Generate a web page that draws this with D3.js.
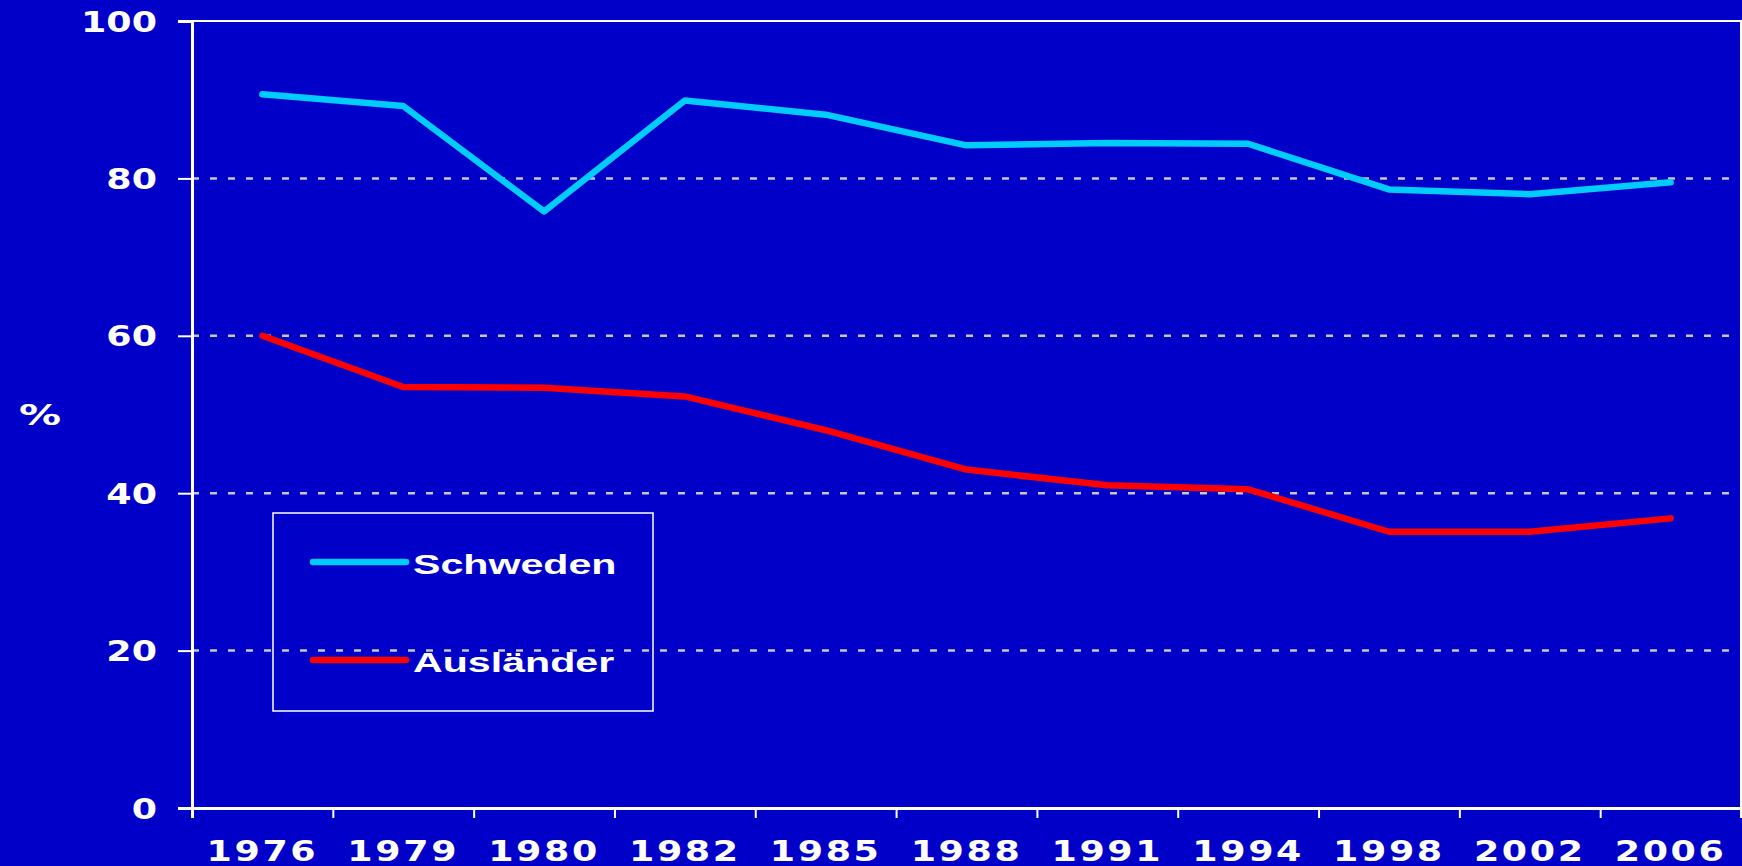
<!DOCTYPE html>
<html>
<head>
<meta charset="utf-8">
<script src="https://cdn.jsdelivr.net/npm/d3@7"></script>
<style>
  html, body { margin: 0; padding: 0; background: #0000c8; }
  svg { display: block; }
</style>
</head>
<body>
<script>
// data
const years = ["1976", "1979", "1980", "1982", "1985", "1988", "1991", "1994", "1998", "2002", "2006"];
const schweden = [90.7, 89.2, 75.8, 89.9, 88.1, 84.2, 84.5, 84.4, 78.6, 78.0, 79.5];
const auslaender = [60.0, 53.5, 53.4, 52.3, 48.0, 43.0, 41.0, 40.5, 35.1, 35.1, 36.8];
const yTicks = [0, 20, 40, 60, 80, 100];
const seriesNames = ["Schweden", "Ausländer"];
const seriesColors = ["#00ccff", "#ff0000"];

const W = 1742, H = 866;
const margin = {top: 21, right: 1, bottom: 58, left: 192};
const w = W - margin.left - margin.right;
const h = H - margin.top - margin.bottom;

const svg = d3.select("body").append("svg")
  .attr("width", W)
  .attr("height", H);

svg.append("rect").attr("width", W).attr("height", H).attr("fill", "#0000c8");

const g = svg.append("g").attr("transform", `translate(${margin.left},${margin.top})`);

const x = d3.scaleBand().domain(years).range([0, w]);
const xEdges = d3.scaleLinear().domain([0, years.length]).range([0, w]);
const y = d3.scaleLinear().domain([0, 100]).range([h, 0]);

// dashed grid
g.append("g")
  .selectAll("line")
  .data(yTicks.filter(d => d > 0 && d < 100))
  .enter()
  .append("line")
  .attr("x1", 0).attr("x2", w)
  .attr("y1", d => y(d)).attr("y2", d => y(d))
  .attr("stroke", "#c8c8c8")
  .attr("stroke-width", 2.5)
  .attr("stroke-dasharray", "7,11");

// frame top + right
g.append("path")
  .attr("d", `M0,${y(100)}H${w}V${h}`)
  .attr("fill", "none")
  .attr("stroke", "#ffffff")
  .attr("stroke-width", 2);

const textScale = 1.3;

// y axis
const yAxis = g.append("g")
  .call(d3.axisLeft(y).tickValues(yTicks).tickSize(14).tickPadding(0));
yAxis.select(".domain").attr("stroke", "#fff").attr("stroke-width", 3);
yAxis.selectAll(".tick line").attr("stroke", "#fff").attr("stroke-width", 2);
yAxis.selectAll(".tick text")
  .attr("fill", "#fff")
  .attr("font-family", "DejaVu Sans")
  .attr("font-weight", "bold")
  .attr("font-size", 28)
  .attr("x", -35 / textScale)
  .attr("dy", "0.36em")
  .attr("transform", `scale(${textScale},1)`);

// x axis: tick marks at band edges
const xTickAxis = g.append("g")
  .attr("transform", `translate(0,${h})`)
  .call(d3.axisBottom(xEdges).ticks(years.length).tickSize(10).tickFormat(""));
xTickAxis.select(".domain").attr("stroke", "#fff").attr("stroke-width", 3);
xTickAxis.selectAll(".tick line").attr("stroke", "#fff").attr("stroke-width", 2);

// x labels at band centers
const xLabelAxis = g.append("g")
  .attr("transform", `translate(0,${h})`)
  .call(d3.axisBottom(x).tickSize(0));
xLabelAxis.select(".domain").remove();
xLabelAxis.selectAll(".tick text")
  .attr("fill", "#fff")
  .attr("font-family", "DejaVu Sans")
  .attr("font-weight", "bold")
  .attr("font-size", 28)
  .attr("y", 53)
  .attr("dy", 0)
  .attr("x", 0)
  .attr("letter-spacing", 2)
  .attr("transform", `scale(${textScale},1)`)
  .each(function () {
    // keep centre where the band centre is after scaling
    const t = d3.select(this.parentNode).attr("transform");
    const cx = +t.match(/translate\(([-\d.]+)/)[1];
    d3.select(this.parentNode).attr("transform", `translate(${cx},0)`);
  });

// % label
svg.append("text")
  .attr("transform", `translate(40,${margin.top + h / 2}) scale(1.5,1)`)
  .attr("text-anchor", "middle")
  .attr("dy", "0.36em")
  .attr("fill", "#fff")
  .attr("font-family", "DejaVu Sans")
  .attr("font-weight", "bold")
  .attr("font-size", 28)
  .text("%");

// lines
const line = d3.line()
  .x((d, i) => x(years[i]) + x.bandwidth() / 2)
  .y(d => y(d));

[schweden, auslaender].forEach(function (vals, k) {
  g.append("path")
    .datum(vals)
    .attr("d", line)
    .attr("fill", "none")
    .attr("stroke", seriesColors[k])
    .attr("stroke-width", 6.5)
    .attr("stroke-linecap", "round")
    .attr("stroke-linejoin", "round");
});

// legend
const leg = svg.append("g").attr("transform", "translate(273,513)");
leg.append("rect")
  .attr("width", 380).attr("height", 198)
  .attr("fill", "none")
  .attr("stroke", "#fff")
  .attr("stroke-width", 1.5);

const items = leg.selectAll("g.item")
  .data(seriesNames)
  .enter()
  .append("g")
  .attr("class", "item")
  .attr("transform", (d, i) => `translate(0,${49 + i * 98})`);

items.append("line")
  .attr("x1", 40).attr("x2", 133)
  .attr("stroke", (d, i) => seriesColors[i])
  .attr("stroke-width", 6.5)
  .attr("stroke-linecap", "round");

items.append("text")
  .attr("transform", `translate(140,12) scale(1.47,1)`)
  .attr("fill", "#fff")
  .attr("font-family", "Liberation Sans")
  .attr("font-weight", "bold")
  .attr("font-size", 28)
  .text(d => d);
</script>
</body>
</html>
